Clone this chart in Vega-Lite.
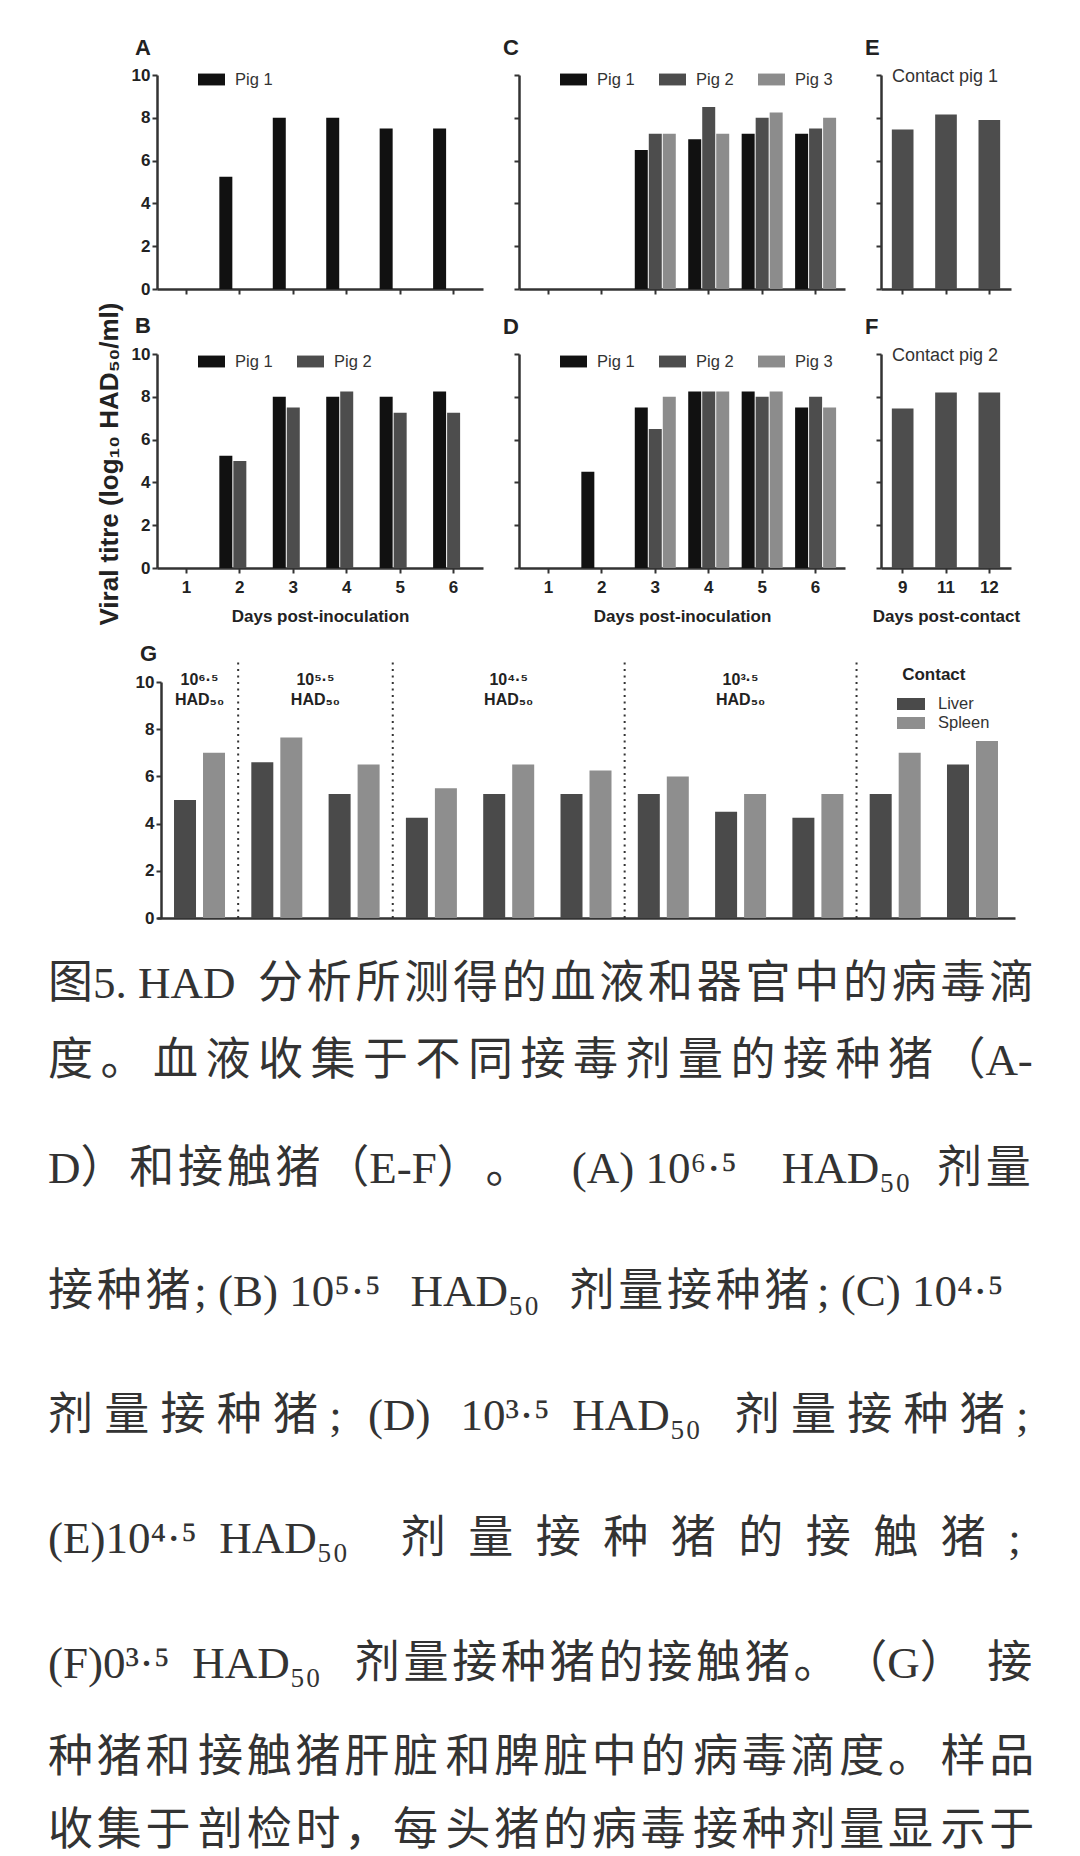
{
  "$schema": "https://vega.github.io/schema/vega-lite/v6.json",
  "padding": {"left": 48, "top": 37, "right": 0, "bottom": 0},
  "background": "white",
  "title": {"text": "Viral titre (log₁₀ HAD₅₀/ml)", "orient": "left", "anchor": "middle", "frame": "group", "fontSize": 26, "fontWeight": "bold", "font": "Liberation Sans", "color": "#222", "baseline": "alphabetic", "offset": -96, "dx": -389},
  "config": {
    "view": {"stroke": null},
    "font": "Liberation Sans",
    "axis": {"domainColor": "#333", "domainWidth": 2.5, "tickColor": "#333", "tickWidth": 2, "tickSize": 5, "labelFont": "Liberation Sans", "labelFontSize": 17, "labelFontWeight": "bold", "labelColor": "#222", "labelPadding": 2, "labelFlush": false, "labelOverlap": false, "titleFont": "Liberation Sans", "titleFontSize": 17, "titleFontWeight": "bold", "titleColor": "#222", "grid": false},
    "axisX": {"labelPadding": 6, "labelAngle": 0, "titlePadding": 13},
    "legend": {"labelFont": "Liberation Sans", "labelColor": "#333", "labelFontSize": 16.5},
    "title": {"fontSize": 22, "fontWeight": "bold", "anchor": "start", "frame": "group", "baseline": "alphabetic", "color": "#222", "font": "Liberation Sans"}
  },
  "spacing": 18,
  "resolve": {"scale": {"color": "independent"}, "legend": {"color": "independent"}},
  "vconcat": [
    {
      "hconcat": [
        {
          "title": {"text": "A", "dx": -22, "offset": 6},
          "width": 326, "height": 214,
          "data": {"values": [
            {"day": 2, "pig": "Pig 1", "titre": 5.25},
            {"day": 3, "pig": "Pig 1", "titre": 8},
            {"day": 4, "pig": "Pig 1", "titre": 8},
            {"day": 5, "pig": "Pig 1", "titre": 7.5},
            {"day": 6, "pig": "Pig 1", "titre": 7.5}
          ]},
          "encoding": {
            "x": {"field": "day", "type": "ordinal", "scale": {"domain": [1, 2, 3, 4, 5, 6], "paddingInner": 0, "paddingOuter": 0.05}, "axis": {"labels": false, "title": null}},
            "y": {"field": "titre", "type": "quantitative", "scale": {"domain": [0, 10], "nice": false}, "axis": {"values": [0, 2, 4, 6, 8, 10], "title": null}},
            "color": {"field": "pig", "type": "nominal", "scale": {"domain": ["Pig 1"], "range": ["#111111"]}, "legend": {"orient": "none", "legendX": 41, "legendY": -9, "direction": "horizontal", "title": null, "symbolType": "M-1,-0.44H1V0.44H-1Z", "symbolSize": 729, "symbolStrokeWidth": 0, "labelOffset": 10, "columnPadding": 24}}
          },
          "layer": [
            {"transform": [{"filter": "datum.pig === 'Pig 1'"}], "mark": {"type": "bar", "width": 13, "xOffset": -14}}
          ]
        },
        {
          "title": {"text": "C", "dx": -16, "offset": 6},
          "width": 326, "height": 214,
          "data": {"values": [
            {"day": 3, "pig": "Pig 1", "titre": 6.5}, {"day": 3, "pig": "Pig 2", "titre": 7.25}, {"day": 3, "pig": "Pig 3", "titre": 7.25},
            {"day": 4, "pig": "Pig 1", "titre": 7}, {"day": 4, "pig": "Pig 2", "titre": 8.5}, {"day": 4, "pig": "Pig 3", "titre": 7.25},
            {"day": 5, "pig": "Pig 1", "titre": 7.25}, {"day": 5, "pig": "Pig 2", "titre": 8}, {"day": 5, "pig": "Pig 3", "titre": 8.25},
            {"day": 6, "pig": "Pig 1", "titre": 7.25}, {"day": 6, "pig": "Pig 2", "titre": 7.5}, {"day": 6, "pig": "Pig 3", "titre": 8}
          ]},
          "encoding": {
            "x": {"field": "day", "type": "ordinal", "scale": {"domain": [1, 2, 3, 4, 5, 6], "paddingInner": 0, "paddingOuter": 0.05}, "axis": {"labels": false, "title": null}},
            "y": {"field": "titre", "type": "quantitative", "scale": {"domain": [0, 10], "nice": false}, "axis": {"values": [0, 2, 4, 6, 8, 10], "labels": false, "title": null}},
            "color": {"field": "pig", "type": "nominal", "scale": {"domain": ["Pig 1", "Pig 2", "Pig 3"], "range": ["#111111", "#4d4d4d", "#8c8c8c"]}, "legend": {"orient": "none", "legendX": 41, "legendY": -9, "direction": "horizontal", "title": null, "symbolType": "M-1,-0.44H1V0.44H-1Z", "symbolSize": 729, "symbolStrokeWidth": 0, "labelOffset": 10, "columnPadding": 24}}
          },
          "layer": [
            {"transform": [{"filter": "datum.pig === 'Pig 1'"}], "mark": {"type": "bar", "width": 13, "xOffset": -14}},
            {"transform": [{"filter": "datum.pig === 'Pig 2'"}], "mark": {"type": "bar", "width": 13, "xOffset": 0}},
            {"transform": [{"filter": "datum.pig === 'Pig 3'"}], "mark": {"type": "bar", "width": 13, "xOffset": 14}}
          ]
        },
        {
          "title": {"text": "E", "dx": -16, "offset": 8},
          "width": 130, "height": 214,
          "data": {"values": [
            {"day": 9, "pig": "Contact pig 1", "titre": 7.45},
            {"day": 11, "pig": "Contact pig 1", "titre": 8.15},
            {"day": 12, "pig": "Contact pig 1", "titre": 7.9}
          ]},
          "mark": "bar",
          "encoding": {
            "x": {"field": "day", "type": "ordinal", "scale": {"domain": [9, 11, 12], "paddingInner": 0.5, "paddingOuter": 0.25}, "axis": {"labels": false, "title": null}},
            "y": {"field": "titre", "type": "quantitative", "scale": {"domain": [0, 10], "nice": false}, "axis": {"values": [0, 2, 4, 6, 8, 10], "labels": false, "title": null}},
            "color": {"field": "pig", "type": "nominal", "scale": {"domain": ["Contact pig 1"], "range": ["#4d4d4d"]}, "legend": {"orient": "none", "legendX": -7, "legendY": -7, "title": null, "symbolSize": 0, "symbolOpacity": 0, "labelOffset": 0, "labelFontSize": 18}}
          }
        }
      ],
      "spacing": 36,
      "bounds": "flush",
      "resolve": {"scale": {"color": "independent"}, "legend": {"color": "independent"}}
    },
    {
      "hconcat": [
        {
          "title": {"text": "B", "dx": -22, "offset": 7},
          "width": 326, "height": 214,
          "data": {"values": [
            {"day": 2, "pig": "Pig 1", "titre": 5.25}, {"day": 2, "pig": "Pig 2", "titre": 5},
            {"day": 3, "pig": "Pig 1", "titre": 8}, {"day": 3, "pig": "Pig 2", "titre": 7.5},
            {"day": 4, "pig": "Pig 1", "titre": 8}, {"day": 4, "pig": "Pig 2", "titre": 8.25},
            {"day": 5, "pig": "Pig 1", "titre": 8}, {"day": 5, "pig": "Pig 2", "titre": 7.25},
            {"day": 6, "pig": "Pig 1", "titre": 8.25}, {"day": 6, "pig": "Pig 2", "titre": 7.25}
          ]},
          "encoding": {
            "x": {"field": "day", "type": "ordinal", "scale": {"domain": [1, 2, 3, 4, 5, 6], "paddingInner": 0, "paddingOuter": 0.05}, "axis": {"title": "Days post-inoculation"}},
            "y": {"field": "titre", "type": "quantitative", "scale": {"domain": [0, 10], "nice": false}, "axis": {"values": [0, 2, 4, 6, 8, 10], "title": null}},
            "color": {"field": "pig", "type": "nominal", "scale": {"domain": ["Pig 1", "Pig 2"], "range": ["#111111", "#4d4d4d"]}, "legend": {"orient": "none", "legendX": 41, "legendY": -6, "direction": "horizontal", "title": null, "symbolType": "M-1,-0.44H1V0.44H-1Z", "symbolSize": 729, "symbolStrokeWidth": 0, "labelOffset": 10, "columnPadding": 24}}
          },
          "layer": [
            {"transform": [{"filter": "datum.pig === 'Pig 1'"}], "mark": {"type": "bar", "width": 13, "xOffset": -14}},
            {"transform": [{"filter": "datum.pig === 'Pig 2'"}], "mark": {"type": "bar", "width": 13, "xOffset": 0}}
          ]
        },
        {
          "title": {"text": "D", "dx": -16, "offset": 9},
          "width": 326, "height": 214,
          "data": {"values": [
            {"day": 2, "pig": "Pig 1", "titre": 4.5},
            {"day": 3, "pig": "Pig 1", "titre": 7.5}, {"day": 3, "pig": "Pig 2", "titre": 6.5}, {"day": 3, "pig": "Pig 3", "titre": 8},
            {"day": 4, "pig": "Pig 1", "titre": 8.25}, {"day": 4, "pig": "Pig 2", "titre": 8.25}, {"day": 4, "pig": "Pig 3", "titre": 8.25},
            {"day": 5, "pig": "Pig 1", "titre": 8.25}, {"day": 5, "pig": "Pig 2", "titre": 8}, {"day": 5, "pig": "Pig 3", "titre": 8.25},
            {"day": 6, "pig": "Pig 1", "titre": 7.5}, {"day": 6, "pig": "Pig 2", "titre": 8}, {"day": 6, "pig": "Pig 3", "titre": 7.5}
          ]},
          "encoding": {
            "x": {"field": "day", "type": "ordinal", "scale": {"domain": [1, 2, 3, 4, 5, 6], "paddingInner": 0, "paddingOuter": 0.05}, "axis": {"title": "Days post-inoculation"}},
            "y": {"field": "titre", "type": "quantitative", "scale": {"domain": [0, 10], "nice": false}, "axis": {"values": [0, 2, 4, 6, 8, 10], "labels": false, "title": null}},
            "color": {"field": "pig", "type": "nominal", "scale": {"domain": ["Pig 1", "Pig 2", "Pig 3"], "range": ["#111111", "#4d4d4d", "#8c8c8c"]}, "legend": {"orient": "none", "legendX": 41, "legendY": -6, "direction": "horizontal", "title": null, "symbolType": "M-1,-0.44H1V0.44H-1Z", "symbolSize": 729, "symbolStrokeWidth": 0, "labelOffset": 10, "columnPadding": 24}}
          },
          "layer": [
            {"transform": [{"filter": "datum.pig === 'Pig 1'"}], "mark": {"type": "bar", "width": 13, "xOffset": -14}},
            {"transform": [{"filter": "datum.pig === 'Pig 2'"}], "mark": {"type": "bar", "width": 13, "xOffset": 0}},
            {"transform": [{"filter": "datum.pig === 'Pig 3'"}], "mark": {"type": "bar", "width": 13, "xOffset": 14}}
          ]
        },
        {
          "title": {"text": "F", "dx": -16, "offset": 8},
          "width": 130, "height": 214,
          "data": {"values": [
            {"day": 9, "pig": "Contact pig 2", "titre": 7.45},
            {"day": 11, "pig": "Contact pig 2", "titre": 8.2},
            {"day": 12, "pig": "Contact pig 2", "titre": 8.2}
          ]},
          "mark": "bar",
          "encoding": {
            "x": {"field": "day", "type": "ordinal", "scale": {"domain": [9, 11, 12], "paddingInner": 0.5, "paddingOuter": 0.25}, "axis": {"title": "Days post-contact"}},
            "y": {"field": "titre", "type": "quantitative", "scale": {"domain": [0, 10], "nice": false}, "axis": {"values": [0, 2, 4, 6, 8, 10], "labels": false, "title": null}},
            "color": {"field": "pig", "type": "nominal", "scale": {"domain": ["Contact pig 2"], "range": ["#4d4d4d"]}, "legend": {"orient": "none", "legendX": -7, "legendY": -7, "title": null, "symbolSize": 0, "symbolOpacity": 0, "labelOffset": 0, "labelFontSize": 18}}
          }
        }
      ],
      "spacing": 36,
      "bounds": "flush",
      "resolve": {"scale": {"color": "independent"}, "legend": {"color": "independent"}}
    },
    {
      "title": {"text": "G", "dx": -17, "offset": -5},
      "width": 858, "height": 236,
      "layer": [
        {
          "data": {"values": [
            {"grp": 1, "organ": "Liver", "titre": 5}, {"grp": 1, "organ": "Spleen", "titre": 7},
            {"grp": 2, "organ": "Liver", "titre": 6.6}, {"grp": 2, "organ": "Spleen", "titre": 7.65},
            {"grp": 3, "organ": "Liver", "titre": 5.25}, {"grp": 3, "organ": "Spleen", "titre": 6.5},
            {"grp": 4, "organ": "Liver", "titre": 4.25}, {"grp": 4, "organ": "Spleen", "titre": 5.5},
            {"grp": 5, "organ": "Liver", "titre": 5.25}, {"grp": 5, "organ": "Spleen", "titre": 6.5},
            {"grp": 6, "organ": "Liver", "titre": 5.25}, {"grp": 6, "organ": "Spleen", "titre": 6.25},
            {"grp": 7, "organ": "Liver", "titre": 5.25}, {"grp": 7, "organ": "Spleen", "titre": 6},
            {"grp": 8, "organ": "Liver", "titre": 4.5}, {"grp": 8, "organ": "Spleen", "titre": 5.25},
            {"grp": 9, "organ": "Liver", "titre": 4.25}, {"grp": 9, "organ": "Spleen", "titre": 5.25},
            {"grp": 10, "organ": "Liver", "titre": 5.25}, {"grp": 10, "organ": "Spleen", "titre": 7},
            {"grp": 11, "organ": "Liver", "titre": 6.5}, {"grp": 11, "organ": "Spleen", "titre": 7.5}
          ]},
          "encoding": {
            "x": {"field": "grp", "type": "ordinal", "scale": {"domain": [1, 2, 3, 4, 5, 6, 7, 8, 9, 10, 11], "paddingInner": 0, "paddingOuter": 0.05}, "axis": {"labels": false, "ticks": false, "title": null}},
            "y": {"field": "titre", "type": "quantitative", "scale": {"domain": [0, 10], "nice": false}, "axis": {"values": [0, 2, 4, 6, 8, 10], "title": null, "offset": -4}},
            "color": {"field": "organ", "type": "nominal", "scale": {"domain": ["Liver", "Spleen"], "range": ["#4a4a4a", "#8e8e8e"]}, "legend": {"orient": "none", "legendX": 744, "legendY": 12, "direction": "vertical", "title": null, "symbolType": "M-1.4,-0.6H1.4V0.6H-1.4Z", "symbolSize": 400, "symbolStrokeWidth": 0, "labelOffset": 17, "rowPadding": 0}}
          },
          "layer": [
            {"transform": [{"filter": "datum.organ === 'Liver'"}], "mark": {"type": "bar", "width": 22, "xOffset": -14.5}},
            {"transform": [{"filter": "datum.organ === 'Spleen'"}], "mark": {"type": "bar", "width": 22, "xOffset": 14.5}}
          ]
        },
        {
          "data": {"values": [{"grp": 2}, {"grp": 4}, {"grp": 7}, {"grp": 10}]},
          "mark": {"type": "rule", "strokeDash": [2, 4.5], "strokeWidth": 2, "color": "#333"},
          "encoding": {
            "x": {"field": "grp", "type": "ordinal", "bandPosition": 0, "scale": {"domain": [1, 2, 3, 4, 5, 6, 7, 8, 9, 10, 11], "paddingInner": 0, "paddingOuter": 0.05}, "axis": {"labels": false, "ticks": false, "title": null}},
            "y": {"datum": 0, "type": "quantitative", "scale": {"domain": [0, 10], "nice": false}, "axis": {"values": [0, 2, 4, 6, 8, 10], "title": null, "offset": -4}},
            "y2": {"datum": 10.85}
          }
        },
        {
          "data": {"values": [
            {"grp": 1, "dose": ["10⁶·⁵", "HAD₅₀"]},
            {"grp": 5, "dose": ["10⁴·⁵", "HAD₅₀"]},
            {"grp": 8, "dose": ["10³·⁵", "HAD₅₀"]}
          ]},
          "mark": {"type": "text", "fontWeight": "bold", "fontSize": 16, "baseline": "alphabetic", "lineHeight": 20, "dy": 3, "color": "#222", "font": "Liberation Sans"},
          "encoding": {
            "x": {"field": "grp", "type": "ordinal", "bandPosition": 0.5, "scale": {"domain": [1, 2, 3, 4, 5, 6, 7, 8, 9, 10, 11], "paddingInner": 0, "paddingOuter": 0.05}, "axis": {"labels": false, "ticks": false, "title": null}},
            "y": {"datum": 10, "type": "quantitative", "scale": {"domain": [0, 10], "nice": false}, "axis": {"values": [0, 2, 4, 6, 8, 10], "title": null, "offset": -4}},
            "text": {"field": "dose"}
          }
        },
        {
          "data": {"values": [
            {"grp": 3, "dose": ["10⁵·⁵", "HAD₅₀"]}
          ]},
          "mark": {"type": "text", "fontWeight": "bold", "fontSize": 16, "baseline": "alphabetic", "lineHeight": 20, "dy": 3, "color": "#222", "font": "Liberation Sans"},
          "encoding": {
            "x": {"field": "grp", "type": "ordinal", "bandPosition": 0, "scale": {"domain": [1, 2, 3, 4, 5, 6, 7, 8, 9, 10, 11], "paddingInner": 0, "paddingOuter": 0.05}, "axis": {"labels": false, "ticks": false, "title": null}},
            "y": {"datum": 10, "type": "quantitative", "scale": {"domain": [0, 10], "nice": false}, "axis": {"values": [0, 2, 4, 6, 8, 10], "title": null, "offset": -4}},
            "text": {"field": "dose"}
          }
        },
        {
          "data": {"values": [
            {"grp": 11, "dose": "Contact"}
          ]},
          "mark": {"type": "text", "fontWeight": "bold", "fontSize": 17, "baseline": "alphabetic", "dy": -2, "color": "#222", "font": "Liberation Sans"},
          "encoding": {
            "x": {"field": "grp", "type": "ordinal", "bandPosition": 0, "scale": {"domain": [1, 2, 3, 4, 5, 6, 7, 8, 9, 10, 11], "paddingInner": 0, "paddingOuter": 0.05}, "axis": {"labels": false, "ticks": false, "title": null}},
            "y": {"datum": 10, "type": "quantitative", "scale": {"domain": [0, 10], "nice": false}, "axis": {"values": [0, 2, 4, 6, 8, 10], "title": null, "offset": -4}},
            "text": {"field": "dose"}
          }
        }
      ]
    },
    {
      "width": 858, "height": 908,
      "view": {"fill": "white", "stroke": null},
      "data": {"values": [
        {"line": 1, "text": "图5. HAD\u2002分\u200a析\u200a所\u200a测\u200a得\u200a的\u200a血\u200a液\u200a和\u200a器\u200a官\u200a中\u200a的\u200a病\u200a毒\u200a滴"},
        {"line": 2, "text": "度\u2006。\u2006血\u2006液\u2006收\u2006集\u2006于\u2006不\u2006同\u2006接\u2006毒\u2006剂\u2006量\u2006的\u2006接\u2006种\u2006猪\u2006（A-"},
        {"line": 3, "text": "D）\u200a和\u200a接\u200a触\u200a猪\u200a（E-F）\u200a。\u2002\u2005\u2006(A) 10⁶·⁵\u2002\u2002HAD₅₀\u2002\u200a剂\u200a量"},
        {"line": 4, "text": "接\u200a种\u200a猪\u200a; (B) 10⁵·⁵\u2002\u2006HAD₅₀\u2002\u2006剂\u200a量\u200a接\u200a种\u200a猪\u2006; (C) 10⁴·⁵"},
        {"line": 5, "text": "剂\u2005量\u2005接\u2005种\u2005猪\u2005;\u2002\u200a(D)\u2002\u200610³·⁵\u2002HAD₅₀\u2002\u2005剂\u2005量\u2005接\u2005种\u2005猪\u2005;"},
        {"line": 6, "text": "(E)10⁴·⁵\u2002HAD₅₀\u2002\u2002\u2006剂\u2002量\u2002接\u2002种\u2002猪\u2002的\u2002接\u2002触\u2002猪\u2002;"},
        {"line": 7, "text": "(F)0³·⁵\u2002HAD₅₀\u2002\u2005剂\u200a量\u200a接\u200a种\u200a猪\u200a的\u200a接\u200a触\u200a猪\u200a。\u200a（G）\u2002接"},
        {"line": 8, "text": "种\u200a猪\u200a和\u2006接\u200a触\u200a猪\u200a肝\u200a脏\u2006和\u200a脾\u200a脏\u200a中\u200a的\u2006病\u200a毒\u200a滴\u200a度\u200a。\u2006样\u200a品"},
        {"line": 9, "text": "收\u200a集\u200a于\u2006剖\u200a检\u200a时\u200a，\u200a每\u2006头\u200a猪\u200a的\u200a病\u200a毒\u2006接\u200a种\u200a剂\u200a量\u200a显\u2006示\u200a于"}
      ]},
      "mark": {"type": "text", "align": "left", "baseline": "alphabetic", "font": "Liberation Serif, Noto Sans CJK SC", "fontSize": 45, "color": "#333", "dx": -109},
      "encoding": {
        "x": {"datum": 0, "type": "quantitative", "scale": {"domain": [0, 1]}, "axis": null},
        "y": {"field": "line", "type": "quantitative", "scale": {"domain": [1, 2, 3, 4, 5, 6, 7, 8, 9], "range": [54, 131, 239, 362, 486, 609, 734, 828, 901], "zero": false, "nice": false}, "axis": null},
        "text": {"field": "text"}
      }
    }
  ]
}
